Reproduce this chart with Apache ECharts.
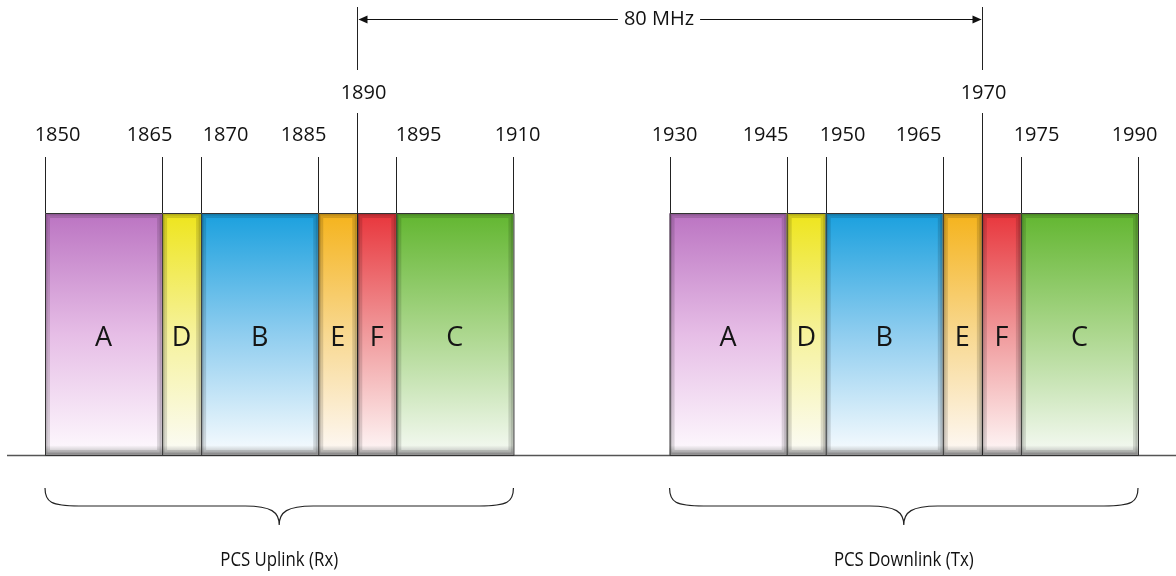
<!DOCTYPE html>
<html><head><meta charset="utf-8">
<script src="https://cdn.jsdelivr.net/npm/echarts@6/dist/echarts.min.js"></script>
<style>html,body{margin:0;padding:0;background:#fff}#c{width:1176px;height:576px}</style>
</head><body><div id="c"></div>
<script>
// ---------- DATA ----------
const blockNames = ['A', 'D', 'B', 'E', 'F', 'C'];
const uplinkEdges = [1850, 1865, 1870, 1885, 1890, 1895, 1910];      // MHz
const downlinkEdges = [1930, 1945, 1950, 1965, 1970, 1975, 1990];    // MHz
const uplinkTickLabels = ['1850', '1865', '1870', '1885', '1890', '1895', '1910'];
const downlinkTickLabels = ['1930', '1945', '1950', '1965', '1970', '1975', '1990'];
const duplexPair = [1890, 1970];
const duplexLabel = '80 MHz';
const groupNames = ['PCS Uplink (Rx)', 'PCS Downlink (Tx)'];
const groupRanges = [[1850, 1910], [1930, 1990]];

// ---------- STYLE / LAYOUT ----------
const blockColors = {
  A: ['#bb74c2', '#e6bde6', '#fcf5fc'],
  D: ['#eee51c', '#f6f29c', '#fbfbf0'],
  B: ['#1aa0de', '#8fcdef', '#f0f8fd'],
  E: ['#f5b31c', '#f8d890', '#fdf6ee'],
  F: ['#e8363c', '#f09a9c', '#fdf0f0'],
  C: ['#62b630', '#acd78e', '#f0f7ec']
};
// horizontal nudges of tick labels relative to their tick line (px)
const uplinkLabelNudge = [12, -13, 24, -15, 6, 22, 4];
const downlinkLabelNudge = [4, -22, 16, -25, 1, 15, -4];
const FONT = '"Open Sans", "Liberation Sans", sans-serif';

// ---------- BUILD ----------
const blockData = [];
[uplinkEdges, downlinkEdges].forEach(edges => {
  for (let i = 0; i < blockNames.length; i++) {
    blockData.push([edges[i], edges[i + 1], i]);
  }
});
const tickData = [];
uplinkEdges.forEach((v, i) => tickData.push([v, uplinkTickLabels[i], uplinkLabelNudge[i]]));
downlinkEdges.forEach((v, i) => tickData.push([v, downlinkTickLabels[i], downlinkLabelNudge[i]]));
const groupData = groupRanges.map((r, i) => [r[0], r[1], groupNames[i]]);

function renderBlock(params, api) {
  const cs = params.coordSys;
  const s = api.value(0), e = api.value(1);
  const name = blockNames[api.value(2)];
  const p0 = api.coord([s, 1]), p1 = api.coord([e, 0]);
  const x = p0[0], y = p0[1], w = p1[0] - p0[0], h = p1[1] - p0[1];
  const c = blockColors[name];
  const grad = new echarts.graphic.LinearGradient(0, 0, 0, 1, [
    { offset: 0, color: c[0] }, { offset: 0.5, color: c[1] }, { offset: 0.96, color: c[2] }, { offset: 1, color: '#b0b0b0' }
  ]);
  const children = [
    { type: 'rect', shape: { x, y, width: w, height: h }, style: { fill: grad } },
    { type: 'rect', shape: { x: x + 2.5, y: y + 2.5, width: w - 5, height: h - 5 }, style: { fill: null, stroke: 'rgba(0,0,0,0.13)', lineWidth: 5 } },
    { type: 'rect', shape: { x: x + 1.5, y: y + 1.5, width: w - 3, height: h - 3 }, style: { fill: null, stroke: 'rgba(0,0,0,0.12)', lineWidth: 2 } },
    { type: 'rect', shape: { x: x + 0.5, y: y + 0.5, width: w, height: h }, style: { fill: null, stroke: '#333', lineWidth: 1 } },
    { type: 'text', style: { text: name, x: x + w / 2, y: y + h / 2 + 4, align: 'center', verticalAlign: 'middle', font: '27px ' + FONT, fill: '#151515' } }
  ];
  if (params.dataIndex === 0) {
    const by = cs.y + cs.height + 0.5;
    children.unshift({ type: 'line', shape: { x1: 7, y1: by, x2: api.getWidth(), y2: by }, style: { stroke: '#555', lineWidth: 1.5 } });
  }
  return { type: 'group', children };
}

function renderTick(params, api) {
  const cs = params.coordSys;
  const v = api.value(0);
  const label = tickData[params.dataIndex][1];
  const nudge = tickData[params.dataIndex][2];
  const x = Math.round(api.coord([v, 1])[0]) + 0.5;
  const top = cs.y, bottom = cs.y + cs.height;
  const isDuplex = duplexPair.indexOf(v) >= 0;
  const ls = { stroke: '#222', lineWidth: 1 };
  const children = [];
  if (isDuplex) {
    children.push({ type: 'line', shape: { x1: x, y1: top - 206, x2: x, y2: top - 143 }, style: ls });
    children.push({ type: 'line', shape: { x1: x, y1: top - 100, x2: x, y2: bottom }, style: ls });
    children.push({ type: 'text', style: { text: label, x: x + nudge, y: top - 120, align: 'center', verticalAlign: 'middle', font: '20px ' + FONT, fill: '#111' } });
  } else {
    children.push({ type: 'line', shape: { x1: x, y1: top - 56, x2: x, y2: top }, style: ls });
    children.push({ type: 'text', style: { text: label, x: x + nudge, y: top - 78, align: 'center', verticalAlign: 'middle', font: '20px ' + FONT, fill: '#111' } });
  }
  return { type: 'group', children };
}

function renderArrow(params, api) {
  const cs = params.coordSys;
  const xa = Math.round(api.coord([api.value(0), 1])[0]) + 0.5;
  const xb = Math.round(api.coord([api.value(1), 1])[0]) + 0.5;
  const y = cs.y - 193.5;
  const ah = 9, aw = 4;
  const tx = (xa + xb) / 2 - 11;
  return {
    type: 'group', children: [
      { type: 'line', shape: { x1: xa + 2, y1: y, x2: xb - 2, y2: y }, style: { stroke: '#111', lineWidth: 1 } },
      { type: 'polygon', shape: { points: [[xa + 1, y], [xa + 1 + ah, y - aw], [xa + 1 + ah, y + aw]] }, style: { fill: '#111' } },
      { type: 'polygon', shape: { points: [[xb - 1, y], [xb - 1 - ah, y - aw], [xb - 1 - ah, y + aw]] }, style: { fill: '#111' } },
      { type: 'text', style: { text: duplexLabel, x: tx, y: y, align: 'center', verticalAlign: 'middle', font: '20px ' + FONT, fill: '#111', backgroundColor: '#fff', padding: [2, 6] } }
    ]
  };
}

function renderBrace(params, api) {
  const cs = params.coordSys;
  const x0 = api.coord([api.value(0), 1])[0];
  const x1 = api.coord([api.value(1), 1])[0];
  const name = groupData[params.dataIndex][2];
  const b = cs.y + cs.height;
  const yt = b + 33, yh = b + 51, yp = b + 70;
  const xm = (x0 + x1) / 2;
  const r = 34;
  const d = `M${x0},${yt} C${x0},${yh - 4} ${x0 + 6},${yh} ${x0 + r},${yh} L${xm - r},${yh} C${xm - 8},${yh} ${xm},${yh + 6} ${xm},${yp} C${xm},${yh + 6} ${xm + 8},${yh} ${xm + r},${yh} L${x1 - r},${yh} C${x1 - 6},${yh} ${x1},${yh - 4} ${x1},${yt}`;
  return {
    type: 'group', children: [
      { type: 'path', shape: { pathData: d }, style: { fill: null, stroke: '#222', lineWidth: 1.2 } },
      { type: 'text', x: xm, y: b + 105, scaleX: 0.84, style: { text: name, x: 0, y: 0, align: 'center', verticalAlign: 'middle', font: '20px ' + FONT, fill: '#111' } }
    ]
  };
}

const chart = echarts.init(document.getElementById('c'), null, { renderer: 'canvas' });
chart.setOption({
  animation: false,
  backgroundColor: '#fff',
  grid: { left: 45, right: 38, top: 213, bottom: 121 },
  xAxis: { type: 'value', min: 1850, max: 1990, show: false },
  yAxis: { type: 'value', min: 0, max: 1, show: false },
  series: [
    { type: 'custom', renderItem: renderBlock, data: blockData, clip: false, z: 2 },
    { type: 'custom', renderItem: renderTick, data: tickData.map(t => [t[0]]), clip: false, z: 3 },
    { type: 'custom', renderItem: renderArrow, data: [duplexPair], clip: false, z: 4 },
    { type: 'custom', renderItem: renderBrace, data: groupData.map(g => [g[0], g[1]]), clip: false, z: 4 }
  ]
});
</script></body></html>
